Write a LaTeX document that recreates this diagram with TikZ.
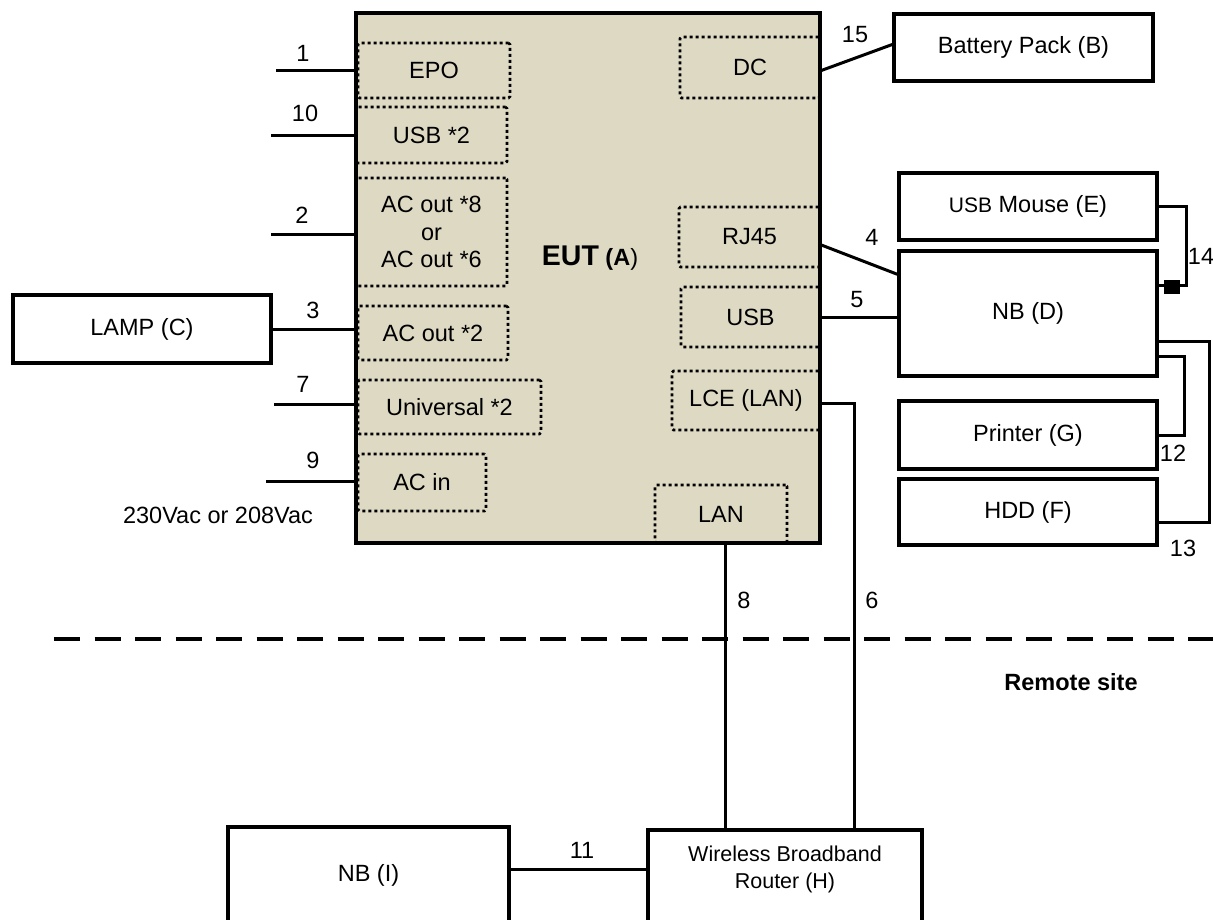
\documentclass[tikz,border=0pt]{standalone}
\usepackage{fontspec}
\setmainfont{Liberation Sans}
\usetikzlibrary{calc}
\definecolor{eutfill}{HTML}{DDD9C3}
\begin{document}
\begin{tikzpicture}[x=1pt,y=-1pt,
  base/.style={font=\fontsize{23.5}{27.5}\selectfont},
  dev/.style={draw, line width=3.5pt, fill=white, inner sep=0pt, base, align=center},
  port/.style={draw, line width=2.6pt, dash pattern=on 3pt off 3pt, rounded corners=1.5pt, inner sep=0pt, base, align=center},
  wire/.style={line width=3pt},
  lbl/.style={base, inner sep=0pt}]
\useasboundingbox (0,0) rectangle (1213,919);
\clip (0,0) rectangle (1213,919);

% EUT
\node[draw, line width=3.5pt, fill=eutfill, minimum width=464pt, minimum height=530pt, inner sep=0pt] (EUT) at (588,278) {};
\node[base] (EUTl) at (590,258) {{\fontsize{28.5}{30}\selectfont\bfseries EUT} {\bfseries (A})};

% ports
\node[port, minimum width=152pt, minimum height=55pt] (EPO) at (434,70.5) {EPO};
\node[port, minimum width=151pt, minimum height=56pt] (USB2) at (431.5,135) {USB *2};
\node[port, minimum width=151pt, minimum height=108pt] (ACo8) at (431.5,232) {AC out *8\\or\\AC out *6};
\node[port, minimum width=150pt, minimum height=54pt] (ACo2) at (433,333) {AC out *2};
\node[port, minimum width=183pt, minimum height=54pt] (UNI) at (449.5,407) {Universal *2};
\node[port, minimum width=128pt, minimum height=57pt] (ACin) at (422,482.5) {AC in};
\node[port, minimum width=140pt, minimum height=61pt] (DC) at (750,67.5) {DC};
\node[port, minimum width=141pt, minimum height=60pt] (RJ45) at (749.5,237) {RJ45};
\node[port, minimum width=139pt, minimum height=60pt] (USBr) at (750.5,317) {USB};
\node[port, minimum width=148pt, minimum height=59pt] (LCE) at (746,400.5) {LCE (LAN)};
\node[port, minimum width=132pt, minimum height=58pt] (LAN) at (721,514) {LAN};

% devices
\node[dev, minimum width=258pt, minimum height=68pt] (C) at (142,329) {LAMP (C)};
\node[dev, minimum width=259pt, minimum height=67pt] (B) at (1023.5,47.5) {Battery Pack (B)};
\node[dev, minimum width=258pt, minimum height=67pt] (E) at (1028,206.5) {{\fontsize{21}{25}\selectfont USB} Mouse (E)};
\node[dev, minimum width=258pt, minimum height=125pt] (D) at (1028,313.5) {NB (D)};
\node[dev, minimum width=258pt, minimum height=68pt] (G) at (1028,435) {Printer (G)};
\node[dev, minimum width=258pt, minimum height=66pt] (F) at (1028,512) {HDD (F)};
\node[dev, minimum width=281pt, minimum height=126pt] (I) at (368.5,890) {};
\node[base] (It) at (368.5,875) {NB (I)};
\node[dev, minimum width=274pt, minimum height=120pt] (H) at (785,890) {};
\node[align=center, font=\fontsize{21.5}{27}\selectfont] (Ht) at (785,869) {Wireless Broadband\\Router (H)};

% free ends
\coordinate (e1) at (276,70.5);
\coordinate (e10) at (271,135);
\coordinate (e2) at (271,234);
\coordinate (e7) at (274,404);
\coordinate (e9) at (266,481);
\coordinate (p8) at (725,543);

% connectors
\draw[wire] (e1) -- (e1 -| EUT.west);
\draw[wire] (e10) -- (e10 -| EUT.west);
\draw[wire] (e2) -- (e2 -| EUT.west);
\draw[wire] (C.east) -- (C.east -| EUT.west);
\draw[wire] (e7) -- (e7 -| EUT.west);
\draw[wire] (e9) -- (e9 -| EUT.west);
\draw[wire] ($(DC.east)+(0,3)$) -- ($(B.west)+(0,-3)$);
\draw[wire] ($(RJ45.east)+(0,8)$) -- ($(D.north west)+(0,25)$);
\draw[wire] (USBr.east) -- (USBr.east -| D.west);
\draw[wire] ($(LCE.east)+(0,3)$) -| ($(H.north west)+(208,0)$);
\draw[wire] (p8) -- (p8 |- H.north);
\draw[wire] ($(I.north east)+(0,44)$) -- ($(H.north west)+(0,41)$);
\draw[wire] (E.east) -- ++(28,0) |- ($(D.north east)+(0,36)$);
\node[fill=black, minimum width=16pt, minimum height=14pt, inner sep=0pt] (sq) at (1172,287) {};
\draw[wire] ($(D.north east)+(0,107)$) -- ++(26,0) |- (G.east);
\draw[wire] ($(D.north east)+(0,92)$) -- ++(51,0) |- ($(F.east)+(0,10)$);

% dashed separator
\coordinate (dl) at (54,639);
\coordinate (dr) at (1213,639);
\draw[line width=4pt, dash pattern=on 26pt off 14.5pt] (dl) -- (dr);

% labels
\node[lbl] (l1) at (303,53) {1};
\node[lbl] (l10) at (305,113) {10};
\node[lbl] (l2) at (302,215) {2};
\node[lbl] (l3) at (313,310) {3};
\node[lbl] (l7) at (303,384) {7};
\node[lbl] (l9) at (313,460) {9};
\node[lbl] (l15) at (855,35) {15};
\node[lbl] (l4) at (872,237) {4};
\node[lbl] (l5) at (857,300) {5};
\node[lbl] (l14) at (1201,256) {14};
\node[lbl] (l12) at (1173,453) {12};
\node[lbl] (l13) at (1183,548) {13};
\node[lbl] (l8) at (744,600) {8};
\node[lbl] (l6) at (872,600) {6};
\node[lbl] (l11) at (582,850) {11};
\node[lbl] (vac) at (218,515) {230Vac or 208Vac};
\node[lbl, font=\fontsize{23.5}{27.5}\selectfont\bfseries] (remote) at (1071,682) {Remote site};
\end{tikzpicture}
\end{document}
